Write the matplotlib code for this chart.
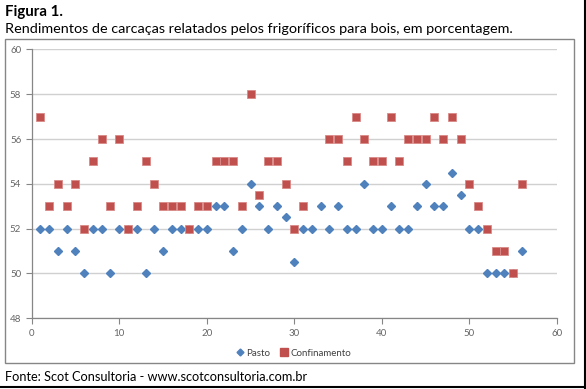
import numpy as np
import matplotlib.pyplot as plt
from matplotlib.patches import Rectangle
from matplotlib.lines import Line2D

plt.rcParams['font.family'] = ['Lato', 'DejaVu Sans']

# x positions (one per slaughterhouse report)
x_vals = list(range(1, 57))

# Pasto (blue diamonds)
pasto = [52, 52, 51, 52, 51, 50, 52, 52, 50, 52,
         52, 52, 50, 52, 51, 52, 52, 52, 52, 52,
         53, 53, 51, 52, 54, 53, 52, 53, 52.5, 50.5,
         52, 52, 53, 52, 53, 52, 52, 54, 52, 52,
         53, 52, 52, 53, 54, 53, 53, 54.5, 53.5, 52,
         52, 50, 50, 50, 50, 51]

# Confinamento (red squares), no value at 32 and 33
confinamento = [57, 53, 54, 53, 54, 52, 55, 56, 53, 56,
                52, 53, 55, 54, 53, 53, 53, 52, 53, 53,
                55, 55, 55, 53, 58, 53.5, 55, 55, 54, 52,
                53, np.nan, np.nan, 56, 56, 55, 57, 56, 55, 55,
                57, 55, 56, 56, 56, 57, 56, 57, 56, 54,
                53, 52, 51, 51, 50, 54]

x_ticks = [0, 10, 20, 30, 40, 50, 60]
y_ticks = [48, 50, 52, 54, 56, 58, 60]

BLUE = '#4F81BD'
RED = '#C0504D'
GRAY = '#868686'

fig = plt.figure(figsize=(5.86, 3.89), dpi=100)
ax = fig.add_axes([0.0541, 0.1817, 0.8964, 0.6913])

ax.plot(x_vals, pasto, linestyle='none', marker='D', ms=4.2,
        color=BLUE, mec=BLUE, label='Pasto', zorder=3)
ax.plot(x_vals, confinamento, linestyle='none', marker='s', ms=5.8,
        color=RED, mec='#D88A88', mew=0.6, label='Confinamento', zorder=4)

ax.set_xlim(0, 60)
ax.set_ylim(48, 60)
ax.set_xticks(x_ticks)
ax.set_yticks(y_ticks)
ax.tick_params(labelsize=7, colors='#666666', length=4, width=0.8)
ax.tick_params(axis='both', color=GRAY)
ax.grid(axis='y', color='#D0D0D0', linewidth=1)
ax.set_axisbelow(True)
for side in ['top', 'right']:
    ax.spines[side].set_visible(False)
for side in ['left', 'bottom']:
    ax.spines[side].set_color(GRAY)
    ax.spines[side].set_linewidth(0.9)

leg = fig.legend(handles=[
    Line2D([], [], linestyle='none', marker='D', ms=3.5, color=BLUE, label='Pasto'),
    Line2D([], [], linestyle='none', marker='s', ms=6, color=RED, label='Confinamento')],
    loc='center', bbox_to_anchor=(293 / 586, 1 - 353 / 389), ncol=2, frameon=False,
    fontsize=7, handletextpad=0.1, columnspacing=1.0, handlelength=1.0)
for t in leg.get_texts():
    t.set_color('#404040')

# chart border and page frame
fig.add_artist(Rectangle((5 / 586, 1 - 363 / 389), 569 / 586, 324 / 389,
                         transform=fig.transFigure, fill=False,
                         edgecolor=GRAY, linewidth=1))
fig.add_artist(Line2D([585 / 586, 585 / 586], [0, 1], transform=fig.transFigure,
                      color='black', linewidth=1.5))
fig.add_artist(Line2D([0, 1], [1 - 387 / 389, 1 - 387 / 389], transform=fig.transFigure,
                      color='black', linewidth=1.5))

fig.text(5 / 586, 1 - 12 / 389, 'Figura 1.', fontsize=10.8, fontweight='bold',
         va='center', ha='left')
fig.text(5 / 586, 1 - 29 / 389,
         'Rendimentos de carcaças relatados pelos frigoríficos para bois, em porcentagem.',
         fontsize=10.4, va='center', ha='left')
fig.text(5 / 586, 1 - 377 / 389, 'Fonte: Scot Consultoria - www.scotconsultoria.com.br',
         fontsize=9.2, va='center', ha='left')

fig.savefig('out.png', dpi=100)
